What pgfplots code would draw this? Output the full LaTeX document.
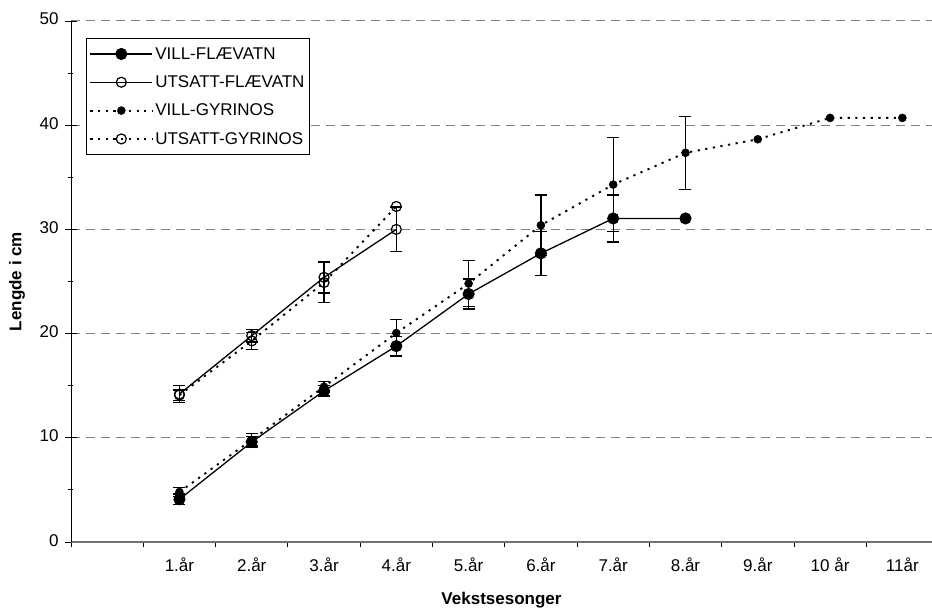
\documentclass[border=0pt]{standalone}
\usepackage{fontspec}
\setmainfont{Liberation Sans}
\usepackage{pgfplots}
\usepackage{pgfplotstable}
\pgfplotsset{compat=1.18}

% VILL-FLÆVATN
\pgfplotstableread{
x y e
1 4.1 0.5
2 9.6 0.5
3 14.5 0.5
4 18.8 0.95
5 23.8 1.45
6 27.7 2.1
7 31.05 2.25
8 31.05 0
}\vf
\pgfplotstableread{
x y e
1 4.1 0.5
2 9.6 0.5
3 14.5 0.5
4 18.8 0.95
5 23.8 1.45
6 27.7 2.1
7 31.05 2.25
}\vfe
% UTSATT-FLÆVATN
\pgfplotstableread{
x y e
1 14.2 0.8
2 19.8 0.6
3 25.4 1.5
4 30.0 2.15
}\uf
% VILL-GYRINOS
\pgfplotstableread{
x y e
1 4.8 0.4
2 9.8 0.6
3 14.9 0.5
4 20.05 1.3
5 24.8 2.2
6 30.4 2.9
7 34.3 4.5
8 37.35 3.5
9 38.65 0
10 40.7 0
11 40.7 0
}\vg
\pgfplotstableread{
x y e
1 4.8 0.4
2 9.8 0.6
3 14.9 0.5
4 20.05 1.3
5 24.8 2.2
6 30.4 2.9
7 34.3 4.5
8 37.35 3.5
}\vge
% UTSATT-GYRINOS
\pgfplotstableread{
x y e
1 14.1 0.5
2 19.3 0.8
3 24.9 1.9
4 32.2 0
}\ug
\pgfplotstableread{
x y e
1 14.1 0.5
2 19.3 0.8
3 24.9 1.9
}\uge

\pgfplotsset{errplot/.style={forget plot, draw=none, mark=none,
  error bars/.cd, y dir=both, y explicit, error mark=-,
  error bar style={draw=black, line width=1.3bp, solid},
  error mark options={rotate=90, draw=black, mark size=6bp, line width=1.3bp, solid}}}

\begin{document}
\begin{tikzpicture}
\begin{axis}[
  scale only axis, width=861bp, height=521bp,
  xmin=-0.5, xmax=11.41, ymin=0, ymax=50,
  axis lines*=left,
  x axis line style={line width=1.2bp, black!55},
  y axis line style={line width=0.8bp, black},
  /pgf/number format/assume math mode=true,
  tick label style={font=\fontsize{17bp}{20bp}\selectfont},
  yticklabel style={xshift=-3bp},
  xtick={1,...,11},
  xticklabels={1.år,2.år,3.år,4.år,5.år,6.år,7.år,8.år,9.år,10 år,11år},
  minor xtick={-0.5,0.5,...,10.5},
  ytick={0,10,...,50},
  minor ytick={5,15,...,45},
  xtick align=outside,
  ytick align=center,
  major tick length=12bp,
  minor tick length=5bp,
  tick style={black, line width=0.8bp},
  major x tick style={draw=none},
  ymajorgrids,
  major grid style={black!50, line width=1bp, dash pattern=on 9bp off 6bp},
  typeset ticklabels with strut,
  xlabel={Vekstsesonger},
  ylabel={Lengde i cm},
  xlabel style={font=\bfseries\fontsize{17bp}{20bp}\selectfont, at={(axis description cs:0.5,-0.1113)}, anchor=center},
  ylabel style={font=\bfseries\fontsize{17bp}{20bp}\selectfont, at={(axis description cs:-0.0627,0.5)}, anchor=center},
  legend style={at={(0.0174,0.9674)}, anchor=north west, draw=black, line width=0.8bp,
    font=\fontsize{17bp}{20bp}\selectfont, inner xsep=3bp, inner ysep=7bp, row sep=11bp,
    cells={anchor=west}},
  legend image code/.code={\draw[#1, mark repeat=2, mark phase=2] plot coordinates {(0bp,0bp) (31bp,0bp) (62bp,0bp)};},
  legend cell align=left,
  clip=false,
]
% error bars
\addplot[errplot] table[x=x, y=y, y error=e] {\vfe};
\addplot[errplot] table[x=x, y=y, y error=e] {\uf};
\addplot[errplot] table[x=x, y=y, y error=e] {\vge};
\addplot[errplot] table[x=x, y=y, y error=e] {\uge};
% series
\addplot[black, line width=1.3bp, mark=*, mark size=5.4bp, mark options={solid, fill=black}]
  table[x=x, y=y] {\vf};
\addlegendentry{VILL-FLÆVATN}
\addplot[black, line width=1.3bp, mark=o, mark size=5bp, mark options={solid, fill=white, line width=1.2bp}]
  table[x=x, y=y] {\uf};
\addlegendentry{UTSATT-FLÆVATN}
\addplot[black, line width=1.9bp, dash pattern=on 2.2bp off 5.5bp, mark=*, mark size=4bp, mark options={solid, fill=black, line width=0.5bp}]
  table[x=x, y=y] {\vg};
\addlegendentry{VILL-GYRINOS}
\addplot[black, line width=1.9bp, dash pattern=on 2.2bp off 5.5bp, mark=o, mark size=5bp, mark options={solid, fill=white, line width=1.2bp}]
  table[x=x, y=y] {\ug};
\addlegendentry{UTSATT-GYRINOS}
\end{axis}
\pgfresetboundingbox
\path (-71bp,-70bp) rectangle (861bp,542bp);
\end{tikzpicture}
\end{document}
